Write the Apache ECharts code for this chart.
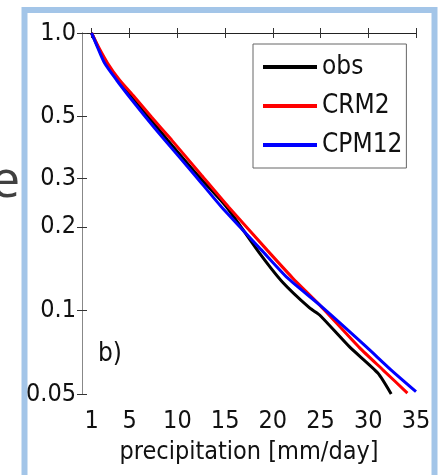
<!DOCTYPE html>
<html>
<head>
<meta charset="utf-8">
<script src="https://cdn.jsdelivr.net/npm/echarts@6/dist/echarts.min.js"></script>
<style>
  html, body { margin: 0; padding: 0; background: #ffffff; }
  #chart { width: 442px; height: 475px; }
</style>
</head>
<body>
<div id="chart"></div>
<script>
// Exceedance probability of daily precipitation (log scale) for observations and two models
const obsX = [1, 1.68, 2.46, 3.77, 5.19, 6.97, 8.96, 12.1, 15.15, 18.6, 21.0, 23.85, 24.9, 28.04, 31.0, 32.4];
const obsY = [1.0, 0.89, 0.78, 0.677, 0.588, 0.498, 0.412, 0.308, 0.236, 0.161, 0.1267, 0.1021, 0.0963, 0.0739, 0.0595, 0.050];

const crm2X = [1, 1.73, 2.67, 3.93, 5.5, 7.28, 9.38, 12.5, 15.36, 19.4, 22.07, 24.9, 29.1, 31.55, 34.1];
const crm2Y = [1.0, 0.89, 0.78, 0.677, 0.588, 0.498, 0.412, 0.308, 0.236, 0.165, 0.131, 0.1047, 0.0733, 0.061, 0.0504];

const cpm12X = [1, 1.62, 2.36, 3.62, 4.98, 6.66, 8.65, 11.8, 14.62, 18.82, 21.54, 24.9, 29.8, 32.4, 35.0];
const cpm12Y = [1.0, 0.89, 0.78, 0.677, 0.588, 0.498, 0.412, 0.308, 0.236, 0.165, 0.131, 0.1047, 0.0739, 0.061, 0.051];

const xTicks = [1, 5, 10, 15, 20, 25, 30, 35];
const yTicks = [0.05, 0.1, 0.2, 0.3, 0.5, 1.0];
const yTickLabels = ['0.05', '0.1', '0.2', '0.3', '0.5', '1.0'];

const seriesNames = ['obs', 'CRM2', 'CPM12'];
const seriesColors = ['#000000', '#ff0000', '#0000ff'];

const FONT = "'Liberation Sans Narrow', 'Arial Narrow', 'DejaVu Sans Condensed', sans-serif";

// the y axis is drawn in log10 space
const yTickLogs = yTicks.map(v => Math.log10(v));
const toPairs = (xs, ys) => xs.map((x, i) => [x, Math.log10(ys[i])]);
function yLabel(v) {
  let best = 0;
  for (let i = 1; i < yTickLogs.length; i++) {
    if (Math.abs(yTickLogs[i] - v) < Math.abs(yTickLogs[best] - v)) best = i;
  }
  return yTickLabels[best];
}

const chart = echarts.init(document.getElementById('chart'), null, { renderer: 'canvas' });

const tickStyle = { show: true, inside: true, length: 5, lineStyle: { color: '#333', width: 1 } };

chart.setOption({
  animation: false,
  backgroundColor: '#ffffff',
  grid: { left: 82, right: 26, top: 33, bottom: 81, containLabel: false, outerBoundsMode: 'none' },
  xAxis: [
    {
      type: 'value', min: 0, max: 35, position: 'bottom',
      name: 'precipitation [mm/day]', nameLocation: 'middle', nameGap: 46,
      nameTextStyle: { fontFamily: FONT, fontSize: 25, color: '#111' },
      axisLine: { show: true, lineStyle: { color: '#222', width: 1 } },
      axisTick: Object.assign({ customValues: xTicks }, tickStyle),
      axisLabel: { customValues: xTicks, margin: 15, fontFamily: FONT, fontSize: 25, color: '#111' },
      splitLine: { show: false }
    },
    {
      type: 'value', min: 0, max: 35, position: 'top',
      axisLine: { show: true, lineStyle: { color: '#222', width: 1 } },
      axisTick: Object.assign({ customValues: xTicks }, tickStyle),
      axisLabel: { show: false },
      splitLine: { show: false }
    }
  ],
  yAxis: [
    {
      type: 'value', min: Math.log10(0.05), max: 0, position: 'left',
      axisLine: { show: true, lineStyle: { color: '#888', width: 1 } },
      axisTick: Object.assign({ customValues: yTickLogs }, tickStyle),
      axisLabel: { customValues: yTickLogs, margin: 6, fontFamily: FONT, fontSize: 25, color: '#111',
                   formatter: v => yLabel(v) },
      splitLine: { show: false }
    },
    {
      type: 'value', min: Math.log10(0.05), max: 0, position: 'right',
      axisLine: { show: true, lineStyle: { color: '#888', width: 1 } },
      axisTick: Object.assign({ customValues: yTickLogs }, tickStyle),
      axisLabel: { show: false },
      splitLine: { show: false }
    }
  ],
  legend: {
    orient: 'vertical', left: 253, top: 44,
    data: seriesNames,
    icon: 'rect', itemWidth: 54, itemHeight: 4, itemGap: 9,
    padding: [8, 4, 8, 10],
    borderColor: '#666', borderWidth: 1, backgroundColor: '#ffffff',
    textStyle: { fontFamily: FONT, fontSize: 26, color: '#111', lineHeight: 30 }
  },
  title: {
    text: 'b)', left: 93, top: 336,
    textStyle: { fontFamily: FONT, fontSize: 26, fontWeight: 'normal', color: '#111' }
  },
  graphic: [
    {
      type: 'rect', silent: true, z: -1,
      shape: { x: 24.5, y: 10, width: 410, height: 470 },
      style: { fill: 'none', stroke: '#a3c5e8', lineWidth: 6 }
    },
    {
      type: 'text', silent: true,
      style: { x: -9, y: 208, text: 'e', fontFamily: "'Open Sans', sans-serif", fontSize: 52,
               fill: '#404040', textVerticalAlign: 'bottom' }
    }
  ],
  series: [
    { name: 'obs', type: 'line', data: toPairs(obsX, obsY), showSymbol: false, smooth: 0.2,
      lineStyle: { color: seriesColors[0], width: 3 }, itemStyle: { color: seriesColors[0] } },
    { name: 'CRM2', type: 'line', data: toPairs(crm2X, crm2Y), showSymbol: false, smooth: 0.2,
      lineStyle: { color: seriesColors[1], width: 3 }, itemStyle: { color: seriesColors[1] } },
    { name: 'CPM12', type: 'line', data: toPairs(cpm12X, cpm12Y), showSymbol: false, smooth: 0.2,
      lineStyle: { color: seriesColors[2], width: 3 }, itemStyle: { color: seriesColors[2] } }
  ]
});
</script>
</body>
</html>
